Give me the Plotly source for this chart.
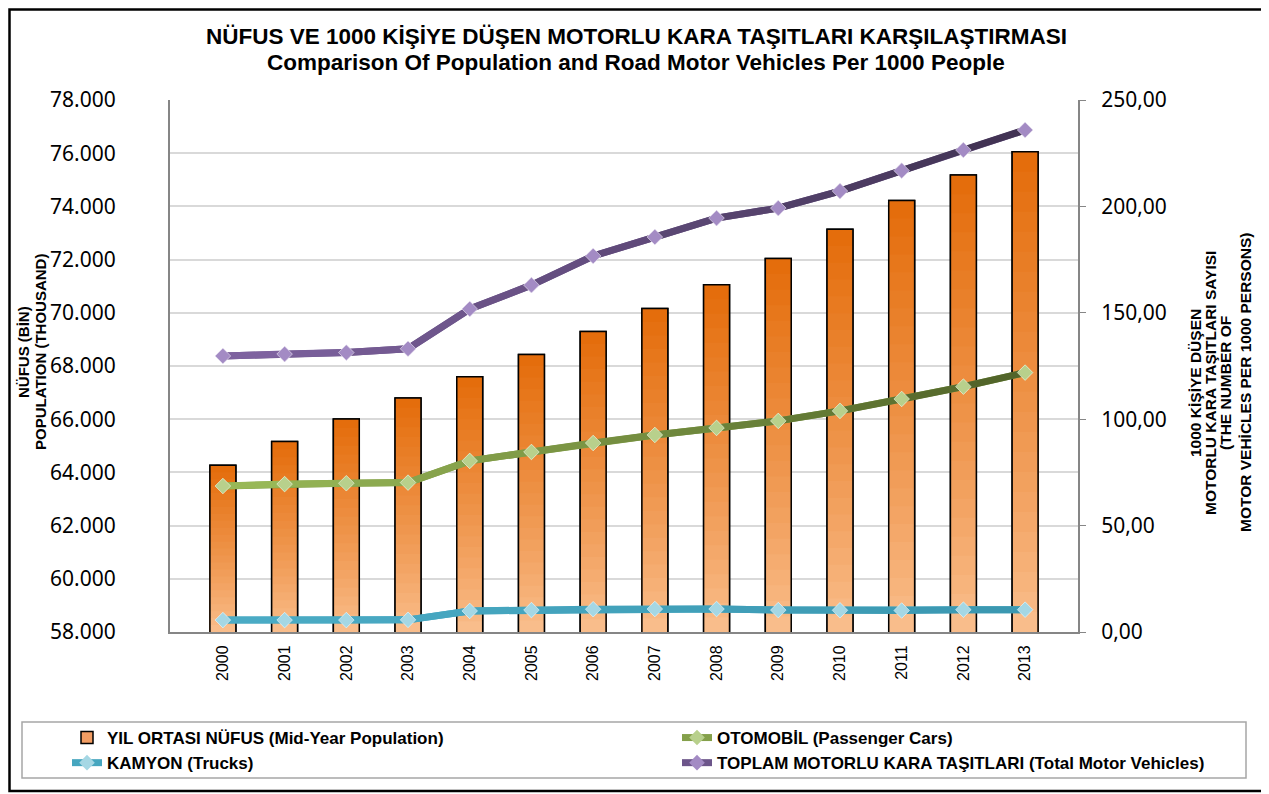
import plotly.graph_objects as go

# yil bazinda veriler (okunan degerler)
years = [str(y) for y in range(2000, 2014)]
population = [64269, 65166, 66003, 66795, 67599, 68435, 69295, 70158, 71052, 72039, 73142, 74224, 75176, 76055]
cars = [68.6, 69.5, 69.9, 70.2, 80.4, 84.6, 88.8, 92.6, 95.9, 99.2, 103.9, 109.5, 115.3, 121.9]
trucks = [5.6, 5.6, 5.6, 5.7, 9.9, 10.3, 10.7, 10.8, 10.8, 10.3, 10.2, 10.1, 10.5, 10.5]
total = [129.7, 130.6, 131.3, 133.1, 151.8, 163.0, 176.7, 185.6, 194.5, 199.2, 207.2, 216.8, 226.5, 235.9]

title_lines = ["NÜFUS VE 1000 KİŞİYE DÜŞEN MOTORLU KARA TAŞITLARI KARŞILAŞTIRMASI",
               "Comparison Of Population and Road Motor Vehicles Per 1000 People"]
left_title = ["NÜFUS (BİN)", "POPULATION (THOUSAND)"]
right_title = ["1000 KİŞİYE DÜŞEN", "MOTORLU KARA TAŞITLARI SAYISI", "(THE NUMBER OF",
               "MOTOR VEHİCLES PER 1000 PERSONS)"]

y_min = 58000
n_steps = 24

# plot area in screen pixels (page body adds an 8px offset)
OFF = 8
L, R, T, B = 170, 1078, 100, 632
W, H = R - L, B - T


def px_x(x):
    return (x - L) / W


def px_y(y):
    return (B - y) / H


def hex2rgb(h):
    h = h.lstrip("#")
    return [int(h[i:i + 2], 16) for i in (0, 2, 4)]


def mix(c1, c2, t):
    a, b = hex2rgb(c1), hex2rgb(c2)
    return "rgb({},{},{})".format(*[round(a[i] + (b[i] - a[i]) * t) for i in range(3)])


fig = go.Figure()

# bars: full height legend trace, then gradient bands on top
fig.add_trace(go.Bar(x=years, y=population, width=0.42, name="YIL ORTASI NÜFUS (Mid-Year Population)",
                     marker=dict(color="#F29D63", line=dict(color="black", width=1.5)),
                     legend="legend", hoverinfo="skip"))
for k in range(n_steps, 0, -1):
    t = (k - 0.5) / n_steps
    band = [y_min + (v - y_min) * k / n_steps for v in population]
    fig.add_trace(go.Bar(x=years, y=band, width=0.42, showlegend=False, hoverinfo="skip",
                         marker=dict(color=mix("#FAC090", "#E46C0A", t ** 0.85), line=dict(width=0))))
fig.add_trace(go.Bar(x=years, y=population, width=0.42, showlegend=False, hoverinfo="skip",
                     marker=dict(color="rgba(0,0,0,0)", line=dict(color="black", width=1.5))))

series = [
    ("KAMYON (Trucks)", trucks, "#4BACC6", "#3A97B0", "#A5D7E4", "legend"),
    ("OTOMOBİL (Passenger Cars)", cars, "#9BBB59", "#4F6228", "#B8D08C", "legend2"),
    ("TOPLAM MOTORLU KARA TAŞITLARI (Total Motor Vehicles)", total, "#8064A2", "#3F3151", "#A38BC4", "legend2"),
]

for name, vals, c_start, c_end, c_mark, leg in series:
    fig.add_trace(go.Scatter(x=years, y=vals, yaxis="y2", mode="lines+markers", name=name,
                             line=dict(color=mix(c_start, c_end, 0.3), width=7),
                             marker=dict(symbol="diamond", size=12, color=c_mark),
                             legend=leg, hoverinfo="skip"))
    for i in range(len(years) - 1):
        fig.add_trace(go.Scatter(x=years[i:i + 2], y=vals[i:i + 2], yaxis="y2", mode="lines",
                                 showlegend=False, hoverinfo="skip",
                                 line=dict(color=mix(c_start, c_end, (i + 0.5) / (len(years) - 1)), width=7)))
    fig.add_trace(go.Scatter(x=years, y=vals, yaxis="y2", mode="markers", showlegend=False, hoverinfo="skip",
                             marker=dict(symbol="diamond", size=12, color=c_mark,
                                         line=dict(color="rgba(255,255,255,0.5)", width=1))))

legend_style = dict(orientation="v", xanchor="left", yanchor="top", traceorder="normal",
                    borderwidth=0, bgcolor="rgba(0,0,0,0)",
                    font=dict(size=17, family="Liberation Sans, Arial", weight="bold"))

fig.update_layout(
    width=1269, height=794,
    margin=dict(l=L - OFF, r=1269 + OFF - R, t=T - OFF, b=794 + OFF - B, autoexpand=False),
    paper_bgcolor="white", plot_bgcolor="white",
    barmode="overlay",
    separators=",.",
    font=dict(family="Liberation Sans, Arial", color="black"),
    xaxis=dict(type="category", tickangle=-90, showgrid=False, showline=True, linecolor="#868686", linewidth=2,
               tickfont=dict(size=16, family="Liberation Sans, Arial"), ticks="", ticklabelstandoff=5),
    yaxis=dict(range=[58000, 78000], dtick=2000, tickformat=",d", showgrid=True, gridcolor="#D9D9D9",
               gridwidth=1.5, showline=True, linecolor="#868686", linewidth=2, ticks="",
               ticklabelstandoff=48, tickfont=dict(size=21, family="Noto Sans"), zeroline=False),
    yaxis2=dict(range=[0, 250], dtick=50, tickformat=".2f", overlaying="y", side="right", showgrid=False,
                showline=True, linecolor="#868686", linewidth=2, ticks="outside", ticklen=6,
                tickcolor="#868686", ticklabelstandoff=11, tickfont=dict(size=21, family="Noto Sans"),
                zeroline=False),
    legend=dict(x=px_x(67), y=px_y(720), **legend_style),
    legend2=dict(x=px_x(677), y=px_y(720), **legend_style),
    showlegend=True,
)

# titles as separate text lines
for text, yc in zip(title_lines, [37, 62]):
    fig.add_annotation(text="<b>" + text + "</b>", xref="paper", yref="paper", x=px_x(636), y=px_y(yc),
                       xanchor="center", yanchor="middle", showarrow=False,
                       font=dict(size=22.5, family="Liberation Sans, Arial"))
for text, xc in zip(left_title, [23, 40]):
    fig.add_annotation(text="<b>" + text + "</b>", xref="paper", yref="paper", x=px_x(xc), y=px_y(352),
                       xanchor="center", yanchor="middle", textangle=-90, showarrow=False,
                       font=dict(size=15, family="Liberation Sans, Arial"))
for text, xc in zip(right_title, [1195, 1210, 1225, 1245]):
    fig.add_annotation(text="<b>" + text + "</b>", xref="paper", yref="paper", x=px_x(xc), y=px_y(383),
                       xanchor="center", yanchor="middle", textangle=-90, showarrow=False,
                       font=dict(size=15.5, family="Liberation Sans, Arial"))

# legend box and outer frame
fig.add_shape(type="rect", xref="paper", yref="paper", x0=px_x(22), x1=px_x(1246), y0=px_y(778), y1=px_y(722),
              line=dict(color="#A6A6A6", width=1.5))
fig.add_shape(type="rect", xref="paper", yref="paper", x0=px_x(9.5), x1=px_x(1265), y0=px_y(791), y1=px_y(9.5),
              line=dict(color="black", width=2.5), layer="below")

fig.write_html("out.html")
